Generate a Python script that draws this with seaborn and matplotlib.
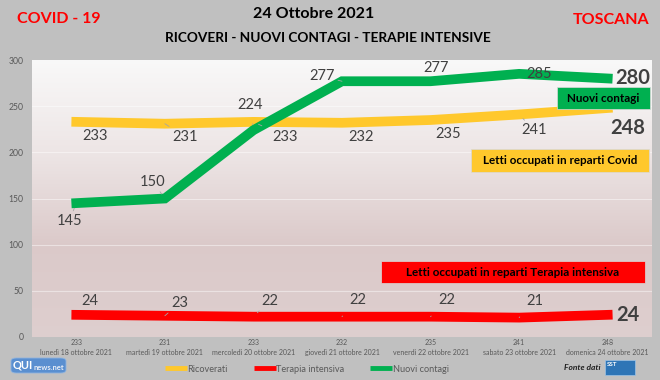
import numpy as np
import pandas as pd
import matplotlib
matplotlib.use("Agg")
import matplotlib.pyplot as plt
from matplotlib.lines import Line2D
from matplotlib.patches import Rectangle, FancyBboxPatch
import seaborn as sns

# data
giorni = ["lunedì 18 ottobre 2021", "martedì 19 ottobre 2021", "mercoledì 20 ottobre 2021",
          "giovedì 21 ottobre 2021", "venerdì 22 ottobre 2021", "sabato 23 ottobre 2021",
          "domenica 24 ottobre 2021"]
ricoverati = [233, 231, 233, 232, 235, 241, 248]
terapia_intensiva = [24, 23, 22, 22, 22, 21, 24]
nuovi_contagi = [145, 150, 224, 277, 277, 285, 280]

serie = ["Ricoverati", "Terapia intensiva", "Nuovi contagi"]
colori = {"Ricoverati": "#FFC82C", "Terapia intensiva": "#FF0000", "Nuovi contagi": "#00B050"}

df = pd.DataFrame({
    "idx": list(range(7)) * 3,
    "valore": ricoverati + terapia_intensiva + nuovi_contagi,
    "serie": sum([[s] * 7 for s in serie], []),
})

sns.set_style("white")
plt.rcParams["font.family"] = ["Lato", "DejaVu Sans"]

fig = plt.figure(figsize=(6.6, 3.8), dpi=100, facecolor="#c0c0c0")
ax = fig.add_axes([32 / 660, 1 - 337 / 380, 620 / 660, 277 / 380])
ax.set_facecolor("none")

# gradient background of the plot area
grad = np.array([[0.975, 0.975, 0.975], [0.93, 0.90, 0.90], [0.86, 0.79, 0.79],
                 [0.87, 0.81, 0.81]])
pos = np.linspace(0, 1, 200)
img = np.stack([np.interp(pos, np.linspace(0, 1, 4), grad[:, c]) for c in range(3)], axis=-1)
ax.imshow(img[:, None, :], extent=[0, 1, 0, 1], transform=ax.transAxes,
          aspect="auto", zorder=0)

for y in [50, 100, 150, 200, 250]:
    ax.axhline(y, color="white", alpha=0.45, lw=0.8, zorder=1)

sns.lineplot(data=df, x="idx", y="valore", hue="serie", hue_order=serie,
             palette=colori, linewidth=7, legend=False, ax=ax, zorder=3)
for ln in ax.lines:
    ln.set_solid_capstyle("projecting")
    ln.set_solid_joinstyle("miter")

ax.set_xlim(-0.5, 6.5)
ax.set_ylim(0, 300)
ax.set_yticks(range(0, 301, 50))
ax.set_xticks(range(7))
ax.set_xticklabels([f"{r}\n{g}" for r, g in zip(ricoverati, giorni)],
                   fontsize=5.0, color="#595959", linespacing=1.5)
ax.tick_params(axis="y", labelsize=6.2, colors="#595959", length=0, pad=6)
ax.tick_params(axis="x", length=0, pad=1.5)
ax.set_xlabel("")
ax.set_ylabel("")
for s in ax.spines.values():
    s.set_visible(False)

# data labels (offsets in pixels, leader line flag)
lab_col = "#404040"
off_ric = [(19, -14, 0), (20, -13, 1), (32, -15, 1), (19, -14, 0), (18, -14, 0), (15, -16, 1)]
off_nc = [(-7, -18, 1), (-12, 17, 1), (-3, 25, 1), (-20, 5, 1), (6, 13, 0), (20, 0, 0)]
off_ti = [(14, 14, 0), (15, 13, 1), (16, 16, 1), (16, 17, 1), (16, 17, 1), (16, 17, 1)]
for vals, offs in [(ricoverati, off_ric), (nuovi_contagi, off_nc), (terapia_intensiva, off_ti)]:
    for i, (dx, dy, lead) in enumerate(offs):
        ap = dict(arrowstyle="-", color="#a6a6a6", lw=0.6, shrinkA=6, shrinkB=4) if lead else None
        ax.annotate(str(vals[i]), (i, vals[i]), xytext=(dx, dy), textcoords="offset pixels",
                    ha="center", va="center", fontsize=10.5, color=lab_col, zorder=5,
                    arrowprops=ap)
for vals, dx, dy in [(nuovi_contagi, 25, 0), (ricoverati, 20, -20), (terapia_intensiva, 20, 0)]:
    ax.annotate(str(vals[6]), (6, vals[6]), xytext=(dx, dy), textcoords="offset pixels",
                ha="center", va="center", fontsize=14.5, fontweight="bold", color=lab_col,
                zorder=5)

# coloured boxes
boxes = [
    (557, 87, 93, 22, "#00B050", "Nuovi contagi"),
    (471, 149, 178, 23, "#FFC82C", "Letti occupati in reparti Covid"),
    (381, 261, 264, 22, "#FF0000", "Letti occupati in reparti Terapia intensiva"),
]
for x0, y0, w, h, c, t in boxes:
    fig.patches.append(Rectangle((x0 / 660, 1 - (y0 + h) / 380), w / 660, h / 380,
                                 transform=fig.transFigure, facecolor=c,
                                 edgecolor="#d9d9d9", lw=0.5, zorder=6))
    fig.text((x0 + w / 2) / 660, 1 - (y0 + h / 2) / 380, t, ha="center", va="center",
             fontsize=8.4, fontweight="bold", color="black", zorder=7)

# titles
fig.text(314 / 660, 1 - 14 / 380, "24 Ottobre 2021", ha="center", va="center",
         fontsize=11.5, fontweight="bold", color="black")
fig.text(328 / 660, 1 - 38 / 380, "RICOVERI - NUOVI CONTAGI - TERAPIE INTENSIVE",
         ha="center", va="center", fontsize=9.8, fontweight="bold", color="black")
fig.text(59 / 660, 1 - 19 / 380, "COVID - 19", ha="center", va="center",
         fontsize=11.5, fontweight="bold", color="#FF0000")
fig.text(611 / 660, 1 - 20 / 380, "TOSCANA", ha="center", va="center",
         fontsize=11.5, fontweight="bold", color="#FF0000")

# legend
handles = [Line2D([], [], color=colori[s], lw=3.5, solid_capstyle="butt") for s in serie]
fig.legend(handles, serie, loc="center", bbox_to_anchor=(0.465, 1 - 369 / 380), ncol=3,
           frameon=False, fontsize=6.6, handlelength=2.4, handletextpad=0.1,
           columnspacing=2.8, labelcolor="#595959")

# logos approximated
fig.patches.append(FancyBboxPatch((11 / 660, 1 - 373 / 380), 55 / 660, 15 / 380,
                                  boxstyle="round,pad=0,rounding_size=0.008",
                                  transform=fig.transFigure, facecolor="#5a8fd0",
                                  edgecolor="#8fb4e0", lw=0.6))
fig.text(13 / 660, 1 - 365 / 380, "QUI", ha="left", va="center", fontsize=8,
         fontweight="bold", color="white")
fig.text(33 / 660, 1 - 367 / 380, "news.net", ha="left", va="center", fontsize=5.5,
         fontweight="bold", color="#e8eef7")
fig.text(582 / 660, 1 - 367 / 380, "Fonte dati", ha="center", va="center", fontsize=6,
         style="italic", fontweight="bold", color="#202020")
fig.patches.append(Rectangle((605 / 660, 1 - 375 / 380), 30 / 660, 15 / 380,
                             transform=fig.transFigure, facecolor="#2e75b6",
                             edgecolor="#9dc3e6", lw=0.5))
fig.text(612 / 660, 1 - 365 / 380, "SST", ha="center", va="center", fontsize=4.5,
         fontweight="bold", color="white")

fig.savefig("out.png", dpi=100, facecolor=fig.get_facecolor())
